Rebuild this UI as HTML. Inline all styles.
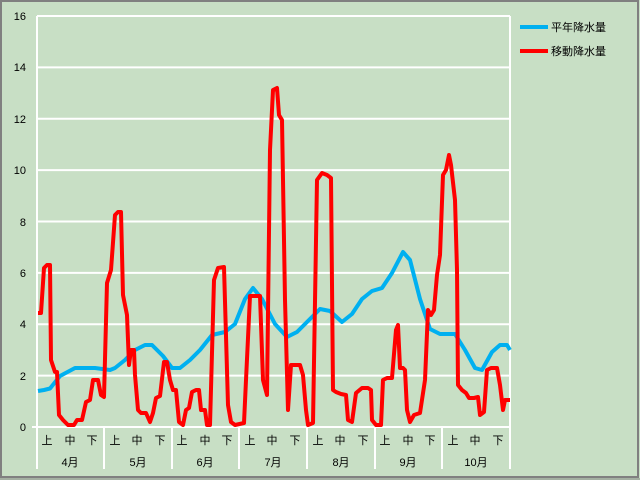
<!DOCTYPE html>
<html><head><meta charset="utf-8"><style>
body{margin:0;background:#fff}
svg text{font-family:"Liberation Sans","Noto Sans CJK JP",sans-serif;font-size:11px;fill:#000}
</style></head><body>
<svg width="640" height="480" viewBox="0 0 640 480" xmlns="http://www.w3.org/2000/svg">
<rect x="0" y="0" width="640" height="480" fill="#c8dfc5"/>
<rect x="1" y="1" width="637" height="476" fill="none" stroke="#808080" stroke-width="2"/>
<line x1="0" y1="479" x2="640" y2="479" stroke="#808080" stroke-width="1"/>
<g stroke="#fff" stroke-width="2">
<line x1="37" y1="16" x2="510" y2="16"/>
<line x1="37" y1="67.4" x2="510" y2="67.4"/>
<line x1="37" y1="118.8" x2="510" y2="118.8"/>
<line x1="37" y1="170.1" x2="510" y2="170.1"/>
<line x1="37" y1="221.5" x2="510" y2="221.5"/>
<line x1="37" y1="272.9" x2="510" y2="272.9"/>
<line x1="37" y1="324.3" x2="510" y2="324.3"/>
<line x1="37" y1="375.6" x2="510" y2="375.6"/>
<line x1="32" y1="427" x2="510" y2="427"/>
<line x1="37" y1="16" x2="37" y2="469"/>
<line x1="510" y1="16" x2="510" y2="469"/>
<line x1="104" y1="427" x2="104" y2="469"/>
<line x1="172" y1="427" x2="172" y2="469"/>
<line x1="239" y1="427" x2="239" y2="469"/>
<line x1="307" y1="427" x2="307" y2="469"/>
<line x1="375" y1="427" x2="375" y2="469"/>
<line x1="442" y1="427" x2="442" y2="469"/>
</g>
<g text-anchor="end">
<text x="26" y="20">16</text><text x="26" y="71">14</text><text x="26" y="123">12</text>
<text x="26" y="174">10</text><text x="26" y="226">8</text><text x="26" y="277">6</text>
<text x="26" y="328">4</text><text x="26" y="380">2</text><text x="26" y="431">0</text>
</g>
<g text-anchor="middle" id="c">
<text x="47" y="444">上</text><text x="70" y="444">中</text><text x="92" y="444">下</text>
<text x="115" y="444">上</text><text x="137" y="444">中</text><text x="160" y="444">下</text>
<text x="182" y="444">上</text><text x="205" y="444">中</text><text x="227" y="444">下</text>
<text x="250" y="444">上</text><text x="272" y="444">中</text><text x="295" y="444">下</text>
<text x="318" y="444">上</text><text x="340" y="444">中</text><text x="363" y="444">下</text>
<text x="385" y="444">上</text><text x="408" y="444">中</text><text x="430" y="444">下</text>
<text x="453" y="444">上</text><text x="475" y="444">中</text><text x="498" y="444">下</text>
<text x="70" y="466">4月</text><text x="138" y="466">5月</text><text x="205" y="466">6月</text>
<text x="273" y="466">7月</text><text x="341" y="466">8月</text><text x="408" y="466">9月</text>
<text x="476" y="466">10月</text>
</g>
<polyline fill="none" stroke="#00b0f0" stroke-width="4" stroke-linejoin="round" points="38,391 44,390 50,388.5 60,376 75,368 95,368 110,370 115,368 125,360 135,350 145,345 152,345 163,356 172,368 180,368 190,360 200,350 212,335 225,332 235,324 245,299 253,288 262,299 275,324 287,337 297,332 310,319 320,309 330,311 342,322 352,314 362,299 372,291 382,288 392,273 403,252 410,260 420,299 430,329 440,334 455,334 465,350 475,368 482,370 492,352 500,345 507,345 510,350"/>
<polyline fill="none" stroke="#ff0000" stroke-width="4" stroke-linejoin="round" points="38,313 41,313 44,268 47,265 50,265 51,360 55,372 57,372 59,415 63,420 68,425 74,425 77,420 82,420 86,402 90,400 93,380 98,380 101,395 104,397 107,283 111,270 115,215 118,212 121,212 123,295 127,315 129,365 131,350 134,350 135,375 138,410 141,413 146,413 150,422 153,413 156,398 160,396 164,362 167,362 170,380 173,390 176,390 179,422 183,425 186,410 189,408 192,392 196,390 199,390 201,410 205,410 207,425 210,425 214,280 218,268 224,267 228,405 231,422 235,425 244,423 246,380 250,296 254,296 260,296 263,380 267,395 270,150 273,90 277,88 279,115 282,120 285,300 288,410 291,365 300,365 303,375 306,410 308,425 313,423 317,180 322,173 327,175 331,178 333,390 336,392 341,394 346,395 348,420 352,422 356,393 362,388 368,388 371,390 372,420 376,425 381,425 383,380 387,378 392,378 396,330 398,325 400,368 403,368 405,370 407,410 410,422 414,415 420,413 425,380 428,310 431,315 434,310 437,275 440,255 443,175 446,170 449,155 451,165 455,200 457,270 458,385 462,390 466,393 469,398 474,398 478,397 480,415 484,412 487,370 491,368 497,368 500,385 503,410 505,400 508,400 510,400"/>
<line x1="520" y1="27" x2="548" y2="27" stroke="#00b0f0" stroke-width="4"/>
<line x1="520" y1="51" x2="548" y2="51" stroke="#ff0000" stroke-width="4"/>
<text x="551" y="31">平年降水量</text>
<text x="551" y="55">移動降水量</text>
</svg>
</body></html>
